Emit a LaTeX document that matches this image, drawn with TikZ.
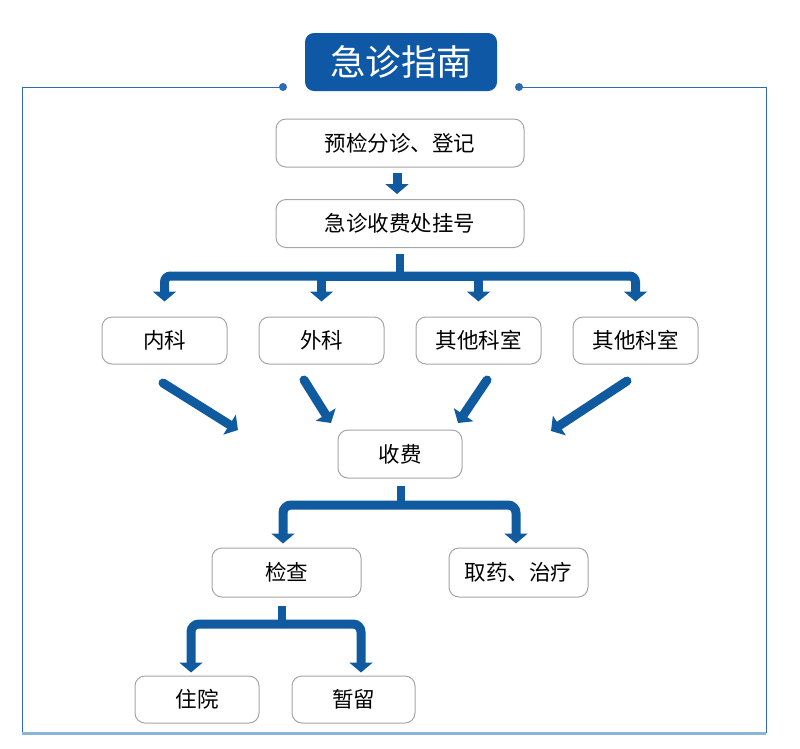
\documentclass[tikz,border=0pt]{standalone}
\usepackage{fontspec}
\setmainfont{Noto Sans CJK SC}
\usetikzlibrary{arrows.meta,calc}
\definecolor{ablue}{RGB}{16,90,160}
\definecolor{tblue}{RGB}{14,88,166}
\definecolor{fblue}{RGB}{46,108,178}
\definecolor{lblue}{RGB}{138,180,217}
\definecolor{bgray}{RGB}{165,165,165}
\begin{document}
\begin{tikzpicture}[x=1pt,y=-1pt,
  box/.style={draw=bgray, line width=1pt, rounded corners=10pt, fill=white, inner sep=0pt,
    font=\fontsize{21.5}{25}\selectfont},
  blk/.style={draw=ablue, line width=9pt, -{Triangle[width=23pt,length=10pt]}},
  barline/.style={draw=ablue, line width=8pt},
  frameline/.style={draw=fblue, line width=1pt}]
\useasboundingbox (0,0) rectangle (800,748);
% frame
\coordinate (fl) at (22,87);
\coordinate (fr) at (766,87);
\coordinate (dl) at (283,87);
\coordinate (dr) at (519,87);
\draw[frameline] (dl) -- (fl) -- (22,733);
\draw[frameline] (dr) -- (fr) -- (766,733);
\draw[draw=lblue, line width=3pt] (22,733) -- (766,733);
\fill[fblue] (dl) circle (4pt);
\fill[fblue] (dr) circle (4pt);
% title
\node[fill=tblue, rounded corners=9pt, minimum width=192pt, minimum height=58pt, text=white,
  font=\fontsize{35.5}{40}\selectfont] (title) at (401,62) {急诊指南};
% boxes
\node[box, minimum width=248pt, minimum height=48pt] (b1) at (400,143) {预检分诊、登记};
\node[box, minimum width=248pt, minimum height=48pt] (b2) at (400,223.5) {急诊收费处挂号};
\node[box, minimum width=125pt, minimum height=47pt] (k1) at (164.5,340.5) {内科};
\node[box, minimum width=125pt, minimum height=47pt] (k2) at (321.5,340.5) {外科};
\node[box, minimum width=125pt, minimum height=47pt] (k3) at (478.5,340.5) {其他科室};
\node[box, minimum width=125pt, minimum height=47pt] (k4) at (635.5,340.5) {其他科室};
\node[box, minimum width=124pt, minimum height=48pt] (sf) at (400,454) {收费};
\node[box, minimum width=149pt, minimum height=49pt] (jc) at (286.5,572.5) {检查};
\node[box, minimum width=139pt, minimum height=49pt] (qy) at (518.5,572.5) {取药、治疗};
\node[box, minimum width=124pt, minimum height=47pt] (zy) at (197,699.5) {住院};
\node[box, minimum width=123pt, minimum height=47pt] (zl) at (353.5,699.5) {暂留};
% arrow b1 -> b2
\draw[blk] ([xshift=-3pt,yshift=-5pt]b1.south) -- ([xshift=-3pt,yshift=5pt]b2.north);
% branch 1
\coordinate (h1) at (400,276);
\draw[barline] ([yshift=-6pt]b2.south) -- (h1);
\draw[blk, rounded corners=6pt] (h1) -| ([yshift=15pt]k1.north);
\draw[blk] (h1) -| ([yshift=15pt]k2.north);
\draw[blk] (h1) -| ([yshift=15pt]k3.north);
\draw[blk, rounded corners=6pt] (h1) -| ([yshift=15pt]k4.north);
% diagonal arrows
\coordinate (s1) at (163,383);
\coordinate (e1) at (238,430);
\coordinate (s2) at (304,380);
\coordinate (e2) at (331,423);
\coordinate (s3) at (487,380);
\coordinate (e3) at (458,423);
\coordinate (s4) at (627,381);
\coordinate (e4) at (551,431);
\draw[blk, line cap=round] (s1) -- (e1);
\draw[blk, line cap=round] (s2) -- (e2);
\draw[blk, line cap=round] (s3) -- (e3);
\draw[blk, line cap=round] (s4) -- (e4);
% branch 2
\coordinate (h2) at (401,505);
\draw[barline] ([xshift=1pt,yshift=-7pt]sf.south) -- (h2);
\draw[blk, rounded corners=8pt] (h2) -| ([xshift=-3.5pt,yshift=4pt]jc.north);
\draw[blk, rounded corners=8pt] (h2) -| ([xshift=-2.5pt,yshift=4pt]qy.north);
% branch 3
\coordinate (h3) at (282,624);
\draw[barline] ([xshift=-4.5pt,yshift=-8pt]jc.south) -- (h3);
\draw[blk, rounded corners=8pt] (h3) -| ([xshift=-6pt,yshift=3pt]zy.north);
\draw[blk, rounded corners=8pt] (h3) -| ([xshift=7.5pt,yshift=3pt]zl.north);
\end{tikzpicture}
\end{document}
